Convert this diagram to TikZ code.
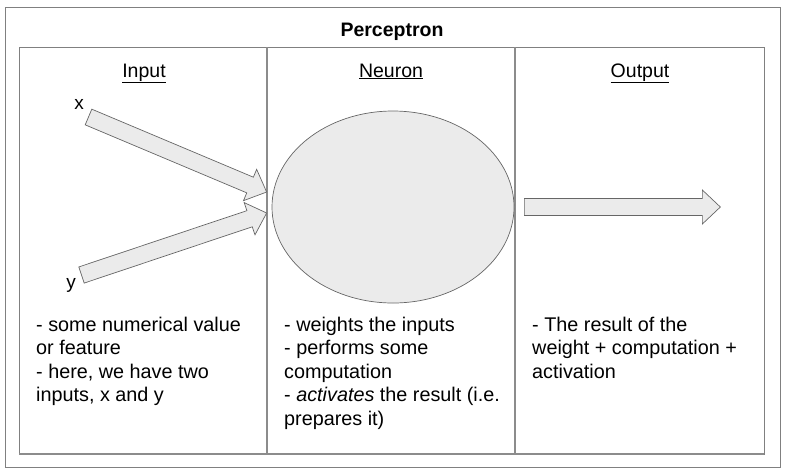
\documentclass[tikz,border=0pt]{standalone}
\usepackage{fontspec}
\setmainfont{Liberation Sans}
\usetikzlibrary{calc,shapes.geometric}
\tikzset{
  frame/.style={draw=black!50, line width=0.9pt},
  divider/.style={draw=black!45, line width=2.4pt},
  title/.style={font=\fontsize{19.5}{23}\selectfont\bfseries, anchor=base, inner sep=0pt},
  head/.style={font=\fontsize{19.5}{23}\selectfont, anchor=base, inner sep=0pt},
  lbl/.style={font=\fontsize{19}{23}\selectfont, inner sep=0pt},
  body/.style={font=\fontsize{19.8}{23.5}\selectfont, align=left, anchor=north west, inner sep=0pt},
  neuron/.style={ellipse, draw=black!60, fill=black!8, line width=0.7pt, minimum width=242pt, minimum height=192pt},
  blockarrow/.style={draw=black!60, fill=black!8, line width=0.7pt, line join=miter},
}
\newcommand\fatarrow[2]{%
  \coordinate (hb) at ($(#2)!18pt!(#1)$);
  \filldraw[blockarrow] ($(#1)!8.5pt!90:(#2)$) -- ($(hb)!8.5pt!90:(#2)$) -- ($(hb)!17pt!90:(#2)$) -- (#2)
    -- ($(hb)!17pt!-90:(#2)$) -- ($(hb)!8.5pt!-90:(#2)$) -- ($(#1)!8.5pt!-90:(#2)$) -- cycle;}
\begin{document}
\begin{tikzpicture}[x=1pt,y=-1pt]
\useasboundingbox (0,0) rectangle (786,475);
% table
\draw[frame] (5,7) rectangle (780,467);
\draw[frame] (19,47) rectangle (764,454);
\draw[divider] (267,47) -- (267,454);
\draw[divider] (515,47) -- (515,454);
\draw[divider, line width=2pt] (19,454) -- (764,454);
% headings
\node[title] (ttl) at (392,36) {Perceptron};
\node[head] (hin) at (144,77) {\underline{Input}};
\node[head] (hneu) at (391,77) {\underline{Neuron}};
\node[head] (hout) at (640,77) {\underline{Output}};
% neuron and arrows
\node[neuron] (neu) at (393,207) {};
\node[lbl] (lx) at (79,104) {x};
\node[lbl] (ly) at (71,285) {y};
\coordinate (xtail) at (88.5,117);
\coordinate (ytail) at (81.5,275);
\coordinate (xtip) at ($(neu.west)+(-5,-15)$);
\coordinate (ytip) at ($(neu.west)+(-5,6)$);
\coordinate (otail) at ($(neu.east)+(10,0)$);
\coordinate (otip) at ($(neu.east)+(206,0)$);
\fatarrow{xtail}{xtip}
\fatarrow{ytail}{ytip}
\fatarrow{otail}{otip}
% texts
\node[body] (tin) at (36,316.5) {- some numerical value\\or feature\\- here, we have two\\inputs, x and y};
\node[body] (tneu) at (284,316.5) {- weights the inputs\\- performs some\\computation\\- \textit{activates} the result (i.e.\\prepares it)};
\node[body] (tout) at (532,316.5) {- The result of the\\weight + computation +\\activation};
\end{tikzpicture}
\end{document}
